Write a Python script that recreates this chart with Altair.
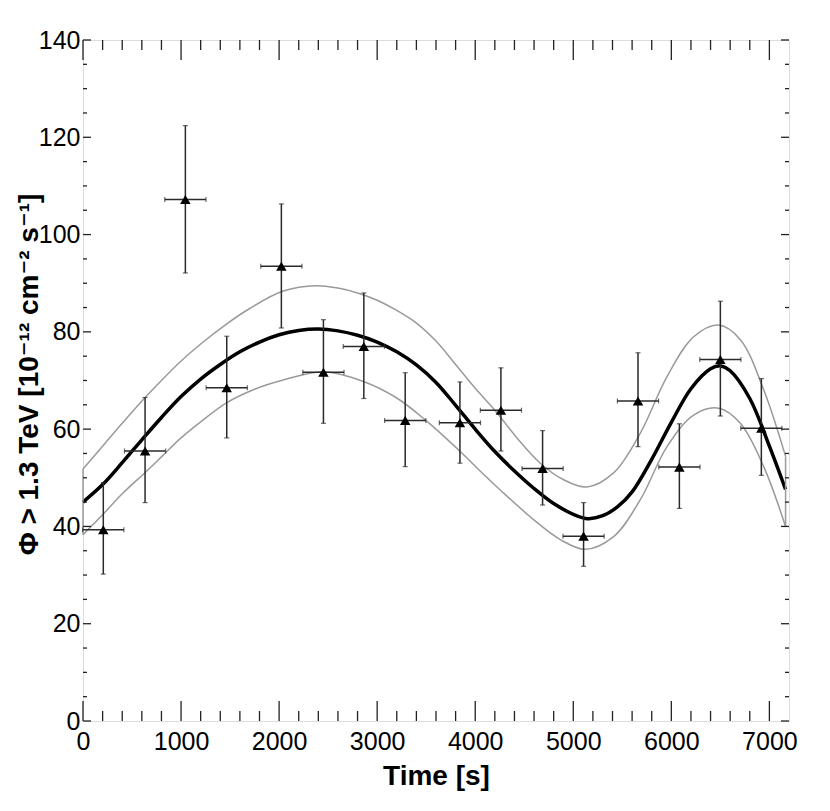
import altair as alt
import pandas as pd

# --- measured points ---
t_center = [207, 633, 1044, 1466, 2023, 2452, 2864, 3286, 3844, 4262, 4687, 5105, 5660, 6082, 6500, 6918]
t_half = [210] * 16
flux = [39.3, 55.5, 107.2, 68.5, 93.5, 71.7, 77.0, 61.8, 61.3, 63.9, 51.9, 38.0, 65.8, 52.2, 74.3, 60.2]
flux_hi = [49.0, 66.5, 122.4, 79.1, 106.3, 82.5, 88.0, 71.6, 69.7, 72.6, 59.7, 44.9, 75.7, 61.1, 86.3, 70.4]
flux_lo = [30.2, 44.9, 92.1, 58.2, 80.8, 61.2, 66.3, 52.3, 53.0, 55.5, 44.4, 31.8, 56.4, 43.7, 62.7, 50.5]

# --- fitted model (black) ---
fit_t = [0, 200, 400, 600, 800, 1000, 1200, 1400, 1600, 1800, 2000, 2200, 2400, 2600, 2800,
         3000, 3200, 3400, 3600, 3800, 4000, 4200, 4400, 4600, 4800, 5000, 5150, 5300, 5450,
         5600, 5800, 6000, 6200, 6400, 6500, 6600, 6800, 7000, 7165]
fit_v = [45.0, 48.6, 53.1, 57.8, 62.4, 66.7, 70.3, 73.3, 75.9, 77.9, 79.4, 80.3, 80.6, 80.2, 79.3,
         77.9, 75.9, 73.2, 69.6, 64.9, 60.0, 55.4, 51.4, 47.8, 44.7, 42.5, 41.6, 42.2, 44.0,
         47.1, 53.8, 61.4, 68.3, 72.4, 73.0, 72.0, 66.3, 56.5, 47.6]

# --- uncertainty band (grey) ---
up_t = [0, 200, 400, 629, 800, 1000, 1200, 1463, 1700, 2041, 2381, 2600, 2800, 3000, 3200, 3400,
        3600, 3800, 4000, 4200, 4450, 4663, 4901, 5139, 5411, 5684, 5956, 6228, 6483, 6704, 6942, 7165]
up_v = [51.8, 56.5, 61.2, 66.4, 70.0, 74.0, 77.5, 81.6, 84.8, 88.4, 89.5, 89.0, 88.0, 86.5, 84.4, 81.8,
        78.1, 73.3, 68.4, 63.9, 57.6, 53.0, 49.6, 48.1, 51.0, 59.2, 70.8, 79.0, 81.4, 78.4, 68.1, 54.4]
lo_t = [0, 200, 400, 629, 800, 1000, 1200, 1463, 1750, 2041, 2449, 2860, 3200, 3490, 3847, 4050,
        4255, 4595, 4867, 5122, 5411, 5684, 5956, 6228, 6483, 6704, 6942, 7165]
lo_v = [38.3, 42.4, 46.7, 51.0, 54.3, 58.2, 61.5, 65.4, 68.2, 70.1, 71.8, 69.8, 66.4, 61.9, 55.4, 51.4,
        47.5, 41.4, 37.3, 35.3, 37.9, 45.5, 56.4, 62.9, 64.3, 61.2, 52.3, 40.0]

# --- axis ticks ---
x_major = [0, 1000, 2000, 3000, 4000, 5000, 6000, 7000]
x_minor = [v for v in range(200, 7200, 200) if v % 1000 != 0]
y_major = [0, 20, 40, 60, 80, 100, 120, 140]
y_minor = [v for v in range(5, 140, 5) if v % 20 != 0]

W, H = 706, 681
FONT = "Liberation Sans, Arial, Helvetica, DejaVu Sans"
INK = "#222222"

xs = alt.Scale(domain=[0, 7200], nice=False, zero=False)
ys = alt.Scale(domain=[0, 140], nice=False, zero=False)

pts = pd.DataFrame({
    "t": t_center,
    "tlo": [c - h for c, h in zip(t_center, t_half)],
    "thi": [c + h for c, h in zip(t_center, t_half)],
    "f": flux, "flo": flux_lo, "fhi": flux_hi,
})
fit = pd.DataFrame({"t": fit_t, "v": fit_v})
up = pd.DataFrame({"t": up_t, "v": up_v})
lo = pd.DataFrame({"t": lo_t, "v": lo_v})
ends = pd.DataFrame({"t": [up_t[0], up_t[-1]], "a": [lo_v[0], lo_v[-1]], "b": [up_v[0], up_v[-1]]})

xaxis = alt.Axis(values=x_major, title="Time [s]", format="d", ticks=False, domain=False, grid=False,
                 labelFont=FONT, labelFontSize=25, labelColor="black", labelPadding=8, labelFlush=False,
                 titleFont=FONT, titleFontSize=28, titleFontWeight="bold", titleColor="black",
                 titlePadding=8)
yaxis = alt.Axis(values=y_major, title="Φ > 1.3 TeV [10⁻¹² cm⁻² s⁻¹]", ticks=False, domain=False,
                 grid=False, labelFont=FONT, labelFontSize=25, labelColor="black", labelPadding=3,
                 labelFlush=False,
                 titleFont=FONT, titleFontSize=28, titleFontWeight="bold", titleColor="black",
                 titleX=-46, titleY=334, titleBaseline="alphabetic", titleAlign="center", titleAngle=270)

X = lambda f: alt.X(f, scale=xs)
Y = lambda f: alt.Y(f, scale=ys)

base = alt.Chart(fit).mark_line(color="black", strokeWidth=3.5, interpolate="catmull-rom").encode(
    x=alt.X("t:Q", scale=xs, axis=xaxis),
    y=alt.Y("v:Q", scale=ys, axis=yaxis),
)

grey = "#9a9a9a"
upper = alt.Chart(up).mark_line(color=grey, strokeWidth=1.5, interpolate="catmull-rom").encode(
    x=X("t:Q"), y=Y("v:Q"))
lower = alt.Chart(lo).mark_line(color=grey, strokeWidth=1.5, interpolate="catmull-rom").encode(
    x=X("t:Q"), y=Y("v:Q"))
endl = alt.Chart(ends).mark_rule(color=grey, strokeWidth=1.5).encode(
    x=X("t:Q"), y=Y("a:Q"), y2="b:Q")

bar_col = "#2a2a2a"
vbar = alt.Chart(pts).mark_rule(color=bar_col, strokeWidth=1.5).encode(
    x=X("t:Q"), y=Y("flo:Q"), y2="fhi:Q")
hbar = alt.Chart(pts).mark_rule(color=bar_col, strokeWidth=1.5).encode(
    y=Y("f:Q"), x=X("tlo:Q"), x2="thi:Q")
cap_top = alt.Chart(pts).mark_tick(color=bar_col, orient="horizontal", size=5, thickness=1.2).encode(
    x=X("t:Q"), y=Y("fhi:Q"))
cap_bot = alt.Chart(pts).mark_tick(color=bar_col, orient="horizontal", size=5, thickness=1.2).encode(
    x=X("t:Q"), y=Y("flo:Q"))
cap_l = alt.Chart(pts).mark_tick(color=bar_col, orient="vertical", size=5, thickness=1.2).encode(
    x=X("tlo:Q"), y=Y("f:Q"))
cap_r = alt.Chart(pts).mark_tick(color=bar_col, orient="vertical", size=5, thickness=1.2).encode(
    x=X("thi:Q"), y=Y("f:Q"))
marks = alt.Chart(pts).mark_point(shape="triangle-up", filled=True, color="black", size=110, opacity=1).encode(
    x=X("t:Q"), y=Y("f:Q"))


def xticks(vals, length, top):
    df = pd.DataFrame({"t": vals})
    y0, y1 = (0, length) if top else (H, H - length)
    return alt.Chart(df).mark_rule(color=INK, strokeWidth=1.3).encode(
        x=X("t:Q"), y=alt.value(y0), y2=alt.value(y1))


def yticks(vals, length, right):
    df = pd.DataFrame({"v": vals})
    x0, x1 = (W, W - length) if right else (0, length)
    return alt.Chart(df).mark_rule(color=INK, strokeWidth=1.3).encode(
        y=Y("v:Q"), x=alt.value(x0), x2=alt.value(x1))


tick_layers = [
    xticks(x_major, 20, False), xticks(x_minor, 10, False),
    xticks(x_major, 20, True), xticks(x_minor, 10, True),
    yticks(y_major, 8, False), yticks(y_minor, 4, False),
    yticks(y_major, 8, True), yticks(y_minor, 4, True),
]

chart = alt.layer(
    base, upper, lower, endl, vbar, hbar, cap_top, cap_bot, cap_l, cap_r, marks, *tick_layers
).properties(
    width=W, height=H,
    autosize=alt.AutoSizeParams(type="none"),
    padding={"left": 75, "top": 32, "right": 30, "bottom": 82},
).configure_view(
    stroke=INK, strokeWidth=1.5
).configure(background="white")

chart.save("out.html", embed_options={"renderer": "svg", "actions": False})
